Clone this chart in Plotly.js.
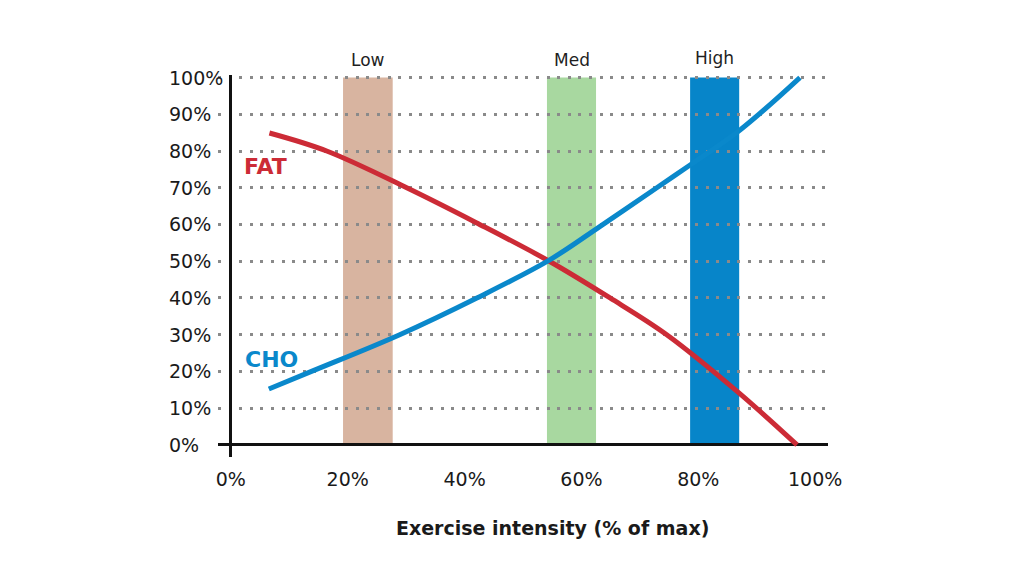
<!DOCTYPE html>
<html>
<head>
<meta charset="utf-8">
<script src="https://cdn.plot.ly/plotly-3.0.1.min.js"></script>
<style>
  html, body { margin: 0; padding: 0; background: #ffffff; }
  #chart { width: 1024px; height: 576px; }
</style>
</head>
<body>
<div id="chart"></div>
<script>
// ---- Data (percent values) ----
const fatX = [6.6, 16.4, 30.1, 42, 54.5, 64.9, 74.6, 87, 96.9];
const fatY = [84.9, 80, 70, 60.5, 50, 40, 30, 14.1, 0];

const choX = [6.5, 13.8, 28.9, 42.1, 54.5, 63.2, 72.9, 78.6, 87.2, 97.4];
const choY = [15.2, 20, 30, 40, 50.3, 59.5, 70, 76.2, 85.8, 100];

const bandNames = ["Low", "Med", "High"];
const bandStart = [19.2, 54.1, 78.6];
const bandEnd = [27.7, 62.5, 87.0];
const bandTop = [100, 100, 100];
const bandColors = ["#d8b4a0", "#a8d8a0", "#0785c9"];

const seriesNames = ["FAT", "CHO"];
const seriesColors = ["#cc2b36", "#0a88cb"];
const seriesLabelX = [1.9, 2.0];
const seriesLabelY = [75.8, 23.3];

const xTickVals = [0, 20, 40, 60, 80, 100];
const xTickText = ["0%", "20%", "40%", "60%", "80%", "100%"];
const yTickVals = [0, 10, 20, 30, 40, 50, 60, 70, 80, 90, 100];
const yTickText = ["0%", "10%", "20%", "30%", "40%", "50%", "60%", "70%", "80%", "90%", "100%"];

const xTitle = "Exercise intensity (% of max)";

// ---- Build ----
const FONT = "DejaVu Sans, Verdana, sans-serif";

const traces = [
  {
    type: "scatter", mode: "lines", name: seriesNames[0],
    x: fatX, y: fatY,
    line: { color: seriesColors[0], width: 5, shape: "spline", smoothing: 1 },
    hoverinfo: "skip", showlegend: false
  },
  {
    type: "scatter", mode: "lines", name: seriesNames[1],
    x: choX, y: choY,
    line: { color: seriesColors[1], width: 5, shape: "spline", smoothing: 1 },
    hoverinfo: "skip", showlegend: false
  }
];

const shapes = bandNames.map((n, i) => ({
  type: "rect", xref: "x", yref: "y", layer: "below",
  x0: bandStart[i], x1: bandEnd[i], y0: 0, y1: bandTop[i],
  fillcolor: bandColors[i], line: { width: 0 }
}));

const bandShift = [18, 18, 20];
const annotations = bandNames.map((n, i) => ({
  xref: "x", yref: "y",
  x: (bandStart[i] + bandEnd[i]) / 2, y: bandTop[i],
  text: n, showarrow: false,
  xanchor: "center", yanchor: "middle", yshift: bandShift[i],
  font: { family: FONT, size: 17, color: "#1f1f1f" }
}));

seriesNames.forEach((n, i) => {
  annotations.push({
    xref: "x", yref: "y", x: seriesLabelX[i], y: seriesLabelY[i],
    text: "<b>" + n + "</b>", showarrow: false,
    xanchor: "left", yanchor: "middle",
    font: { family: FONT, size: 22, color: seriesColors[i] }
  });
});

// Left-aligned y tick labels (as in the reference)
yTickVals.forEach((v, i) => {
  annotations.push({
    xref: "paper", yref: "y", x: -0.0836, y: v,
    text: yTickText[i], showarrow: false,
    xanchor: "left", yanchor: "middle",
    font: { family: FONT, size: 19, color: "#1a1a1a" }
  });
});

annotations.push({
  xref: "x", yref: "paper", x: 55.1, y: -0.186,
  text: "<b>" + xTitle + "</b>", showarrow: false,
  xanchor: "center", yanchor: "middle",
  font: { family: FONT, size: 19, color: "#1a1a1a" }
});

const layout = {
  width: 1024, height: 576,
  margin: { l: 218, r: 196, t: 75, b: 119, pad: 0 },
  paper_bgcolor: "#ffffff", plot_bgcolor: "#ffffff",
  showlegend: false,
  font: { family: FONT, size: 18, color: "#1a1a1a" },
  xaxis: {
    range: [-2.2, 102.2],
    tickvals: xTickVals, ticktext: xTickText,
    showgrid: false, showline: false, ticks: "",
    zeroline: true, zerolinecolor: "#111111", zerolinewidth: 3,
    ticklabelstandoff: 9,
    tickfont: { family: FONT, size: 19, color: "#1a1a1a" },
    fixedrange: true
  },
  yaxis: {
    range: [-3.3, 100.7],
    tickvals: yTickVals,
    showticklabels: false,
    showgrid: true, gridcolor: "#8a8a8a", gridwidth: 3, griddash: "3px,7.6px",
    showline: false, ticks: "",
    zeroline: true, zerolinecolor: "#111111", zerolinewidth: 3,
    fixedrange: true
  },
  shapes: shapes,
  annotations: annotations
};

Plotly.newPlot("chart", traces, layout, { displayModeBar: false, staticPlot: true });
</script>
</body>
</html>
